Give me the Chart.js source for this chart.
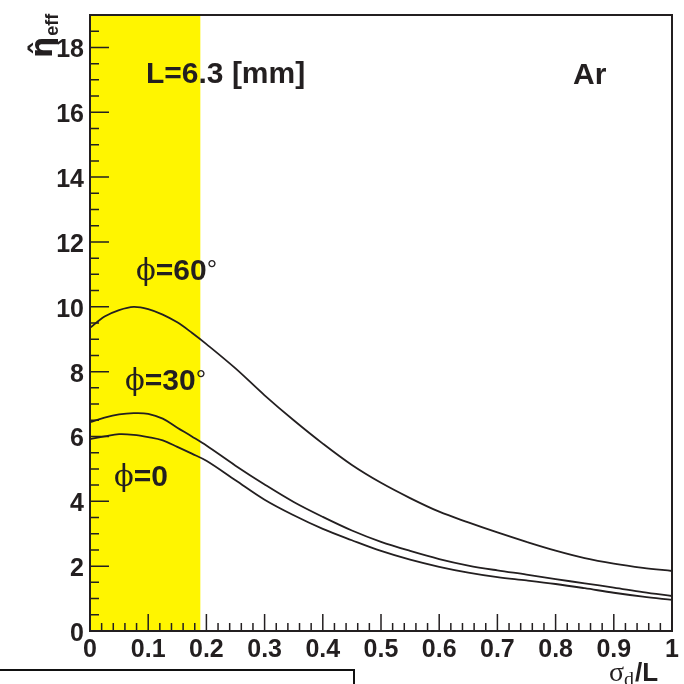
<!DOCTYPE html>
<html>
<head>
<meta charset="utf-8">
<script src="https://cdn.jsdelivr.net/npm/chart.js@4.4.1/dist/chart.umd.min.js"></script>
<style>
  html, body { margin: 0; padding: 0; background: #fff; }
  #wrap { position: relative; width: 684px; height: 684px; }
  #corner { position: absolute; left: -2px; top: 669px; width: 355px; height: 30px;
            border-top: 2px solid #111; border-right: 2px solid #111; }
</style>
</head>
<body>
<div id="wrap">
  <canvas id="c"></canvas>
  <div id="corner"></div>
</div>
<script>
// data
const sigmaOverL = [0, 0.025, 0.05, 0.075, 0.1, 0.125, 0.15, 0.175, 0.2, 0.25, 0.3, 0.35, 0.4,
                    0.45, 0.5, 0.55, 0.6, 0.65, 0.7, 0.75, 0.8, 0.85, 0.9, 0.95, 1.0];
const etaPhi60 = [9.35, 9.7, 9.9, 10.0, 9.93, 9.76, 9.52, 9.2, 8.85, 8.1, 7.27, 6.5, 5.78,
                  5.12, 4.57, 4.1, 3.68, 3.35, 3.04, 2.75, 2.48, 2.25, 2.08, 1.95, 1.85];
const etaPhi30 = [6.44, 6.58, 6.68, 6.72, 6.7, 6.55, 6.27, 6.0, 5.72, 5.1, 4.52, 3.98, 3.52,
                  3.1, 2.75, 2.47, 2.22, 2.02, 1.87, 1.74, 1.6, 1.47, 1.34, 1.2, 1.08];
const etaPhi0 = [5.92, 6.0, 6.07, 6.05, 5.98, 5.88, 5.68, 5.47, 5.25, 4.65, 4.05, 3.57, 3.15,
                 2.8, 2.47, 2.2, 1.98, 1.8, 1.66, 1.56, 1.45, 1.32, 1.18, 1.06, 0.96];
const bandX = [0, 0.19];
const bandTop = 19;

const INK = '#231f20';
const toXY = arr => arr.map((v, i) => ({ x: sigmaOverL[i], y: v }));

function curve(vals) {
    return {
        data: toXY(vals),
        borderColor: INK,
        borderWidth: 1.8,
        pointRadius: 0,
        fill: false,
        order: 0,
        tension: 0.35
    };
}

// draw text made of runs with different fonts
function runs(ctx, x, y, parts) {
    ctx.textAlign = 'left';
    ctx.textBaseline = 'alphabetic';
    parts.forEach(p => {
        ctx.font = p.font;
        ctx.fillText(p.t, x, y + (p.dy || 0));
        x += ctx.measureText(p.t).width + (p.gap || 0);
    });
}

const decor = {
    id: 'decor',
    afterDatasetsDraw(chart) {
        const ctx = chart.ctx;
        const a = chart.chartArea;
        const xs = chart.scales.x, ys = chart.scales.y;
        ctx.save();
        ctx.strokeStyle = INK;
        ctx.fillStyle = INK;
        ctx.lineWidth = 2;
        ctx.strokeRect(a.left, a.top, a.right - a.left, a.bottom - a.top);

        // inward ticks
        ctx.lineWidth = 1.5;
        ctx.beginPath();
        for (let i = 0; i <= 38; i++) {
            const v = i * 0.5;
            const py = ys.getPixelForValue(v);
            const len = (i % 4 === 0) ? 19 : 9;
            ctx.moveTo(a.left, py); ctx.lineTo(a.left + len, py);
        }
        for (let i = 0; i <= 50; i++) {
            const px = xs.getPixelForValue(i * 0.02);
            const len = (i % 5 === 0) ? 17 : 8;
            ctx.moveTo(px, a.bottom); ctx.lineTo(px, a.bottom - len);
        }
        ctx.stroke();

        const B = 'bold 30px "Liberation Sans", Arial, sans-serif';
        const PHI = '29px "DejaVu Serif", serif';
        const DEG = '26px "Liberation Sans", Arial, sans-serif';
        runs(ctx, 146, 83, [{ t: 'L=6.3 [mm]', font: B }]);
        runs(ctx, 573, 84, [{ t: 'Ar', font: B }]);
        runs(ctx, 136, 280, [{ t: '\u03D5', font: PHI }, { t: '=60', font: B }, { t: '\u00B0', font: DEG, dy: -2 }]);
        runs(ctx, 125, 390, [{ t: '\u03D5', font: PHI }, { t: '=30', font: B }, { t: '\u00B0', font: DEG, dy: -2 }]);
        runs(ctx, 114, 486, [{ t: '\u03D5', font: PHI }, { t: '=0', font: B }]);

        // x axis title
        runs(ctx, 609, 681, [
            { t: '\u03C3', font: '28px "Liberation Serif", serif' },
            { t: 'd', font: '20px "Liberation Serif", serif', dy: 5, gap: 1 },
            { t: '/L', font: 'bold 26px "Liberation Sans", Arial, sans-serif' }
        ]);

        // y axis title, rotated
        ctx.translate(52, 58);
        ctx.rotate(-Math.PI / 2);
        runs(ctx, 0, 0, [
            { t: '\u03B7\u0302', font: 'bold 30px "DejaVu Sans", sans-serif', gap: 1 },
            { t: 'eff', font: 'bold 18px "Liberation Sans", Arial, sans-serif', dy: 6 }
        ]);
        ctx.restore();
    }
};

const tickFont = { family: '"Liberation Sans", Arial, sans-serif', size: 25, weight: 'bold' };
const noPad = s => { s.paddingTop = 0; s.paddingBottom = 0; s.paddingLeft = 0; s.paddingRight = 0; };

new Chart(document.getElementById('c'), {
    type: 'line',
    data: {
        datasets: [
            {
                data: bandX.map(x => ({ x: x, y: bandTop })),
                borderWidth: 0,
                borderColor: 'rgba(0,0,0,0)',
                backgroundColor: '#fff500',
                pointRadius: 0,
                order: 10,
                fill: 'origin'
            },
            curve(etaPhi60),
            curve(etaPhi30),
            curve(etaPhi0)
        ]
    },
    options: {
        responsive: true,
        maintainAspectRatio: false,
        animation: false,
        layout: { padding: { top: 15, right: 12, left: 0, bottom: 0 } },
        plugins: { legend: { display: false }, tooltip: { enabled: false } },
        scales: {
            x: {
                type: 'linear', min: 0, max: 1,
                grid: { display: false, drawTicks: false },
                border: { display: false },
                ticks: {
                    stepSize: 0.1, padding: 4, color: INK, font: tickFont, maxRotation: 0,
                    callback: v => String(Number(v.toFixed(1)))
                },
                afterFit: s => { s.height = 53; noPad(s); }
            },
            y: {
                type: 'linear', min: 0, max: 19,
                grid: { display: false, drawTicks: false },
                border: { display: false },
                afterBuildTicks: s => { s.ticks = s.ticks.filter(t => t.value % 2 === 0); },
                ticks: { stepSize: 2, padding: 6, labelOffset: 3, color: INK, font: tickFont },
                afterFit: s => { s.width = 90; noPad(s); }
            }
        }
    },
    plugins: [decor]
});
</script>
</body>
</html>
